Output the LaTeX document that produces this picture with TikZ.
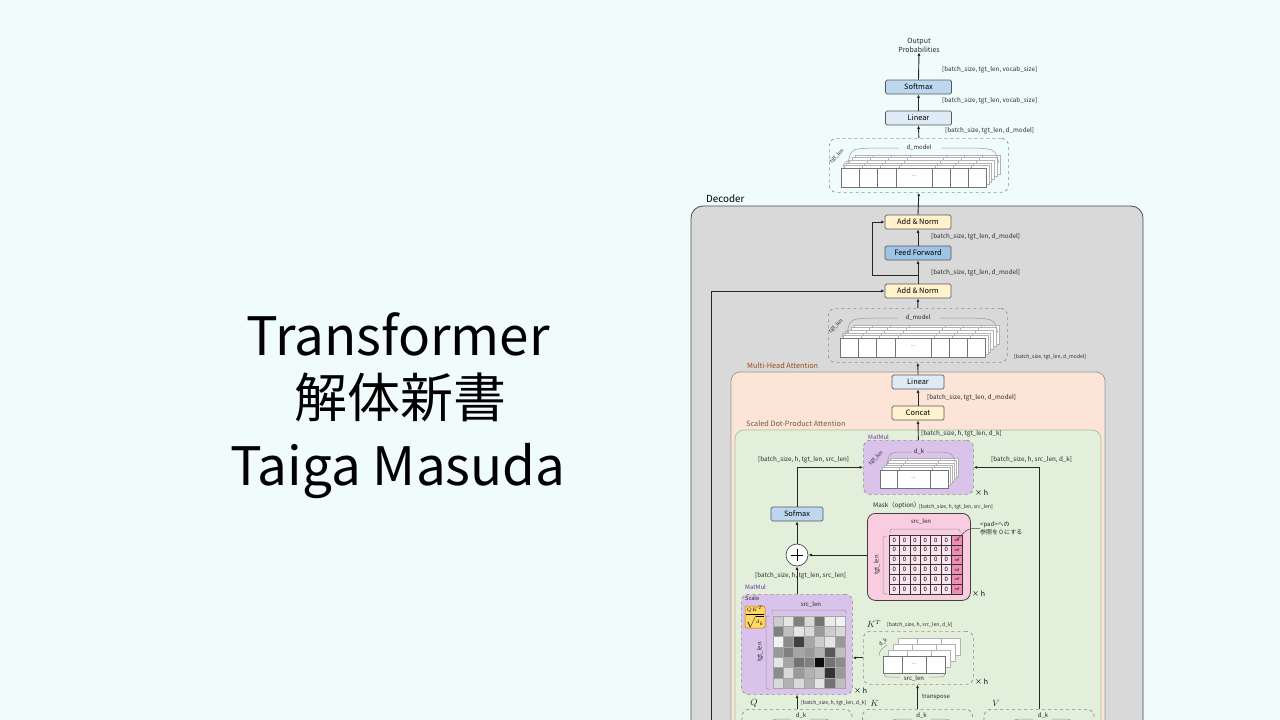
\documentclass[tikz,border=0pt]{standalone}
\usepackage{fontspec}
\setmainfont{Noto Sans CJK JP}
\usetikzlibrary{arrows.meta,calc}

\definecolor{bgcol}{HTML}{F0FCFC}
\definecolor{deccol}{HTML}{D9D9D9}
\definecolor{mhacol}{HTML}{FCE4D6}
\definecolor{sdpcol}{HTML}{E2EFDA}
\definecolor{sdpline}{HTML}{A9BF98}
\definecolor{normcol}{HTML}{FFF2CC}
\definecolor{lincol}{HTML}{DEEBF7}
\definecolor{smaxcol}{HTML}{BDD7EE}
\definecolor{ffcol}{HTML}{9DC3E6}
\definecolor{mmcol}{HTML}{D9C3EA}
\definecolor{maskcol}{HTML}{F9CCDF}
\definecolor{cellcol}{HTML}{FBE3EE}
\definecolor{infcol}{HTML}{EE8CB4}
\definecolor{scalecol}{HTML}{FFD966}
\definecolor{dimcol}{HTML}{2E2A2A}
\definecolor{mhatext}{HTML}{A04A14}
\definecolor{sdptext}{HTML}{6E5E3E}
\definecolor{mmtext}{HTML}{7030A0}

\tikzset{
  titletext/.style={inner sep=0pt, anchor=base, font=\fontsize{53}{58}\selectfont},
  grouplbl/.style={anchor=west, inner sep=0pt, font=\fontsize{7.3}{8}\selectfont},
  blk/.style={draw=black!65, line width=0.7pt, rounded corners=1.5pt, minimum width=66pt, minimum height=14pt, inner sep=0pt, font=\fontsize{7.4}{8}\selectfont},
  dim/.style={anchor=west, inner sep=0pt, text=dimcol, font=\fontsize{6.3}{7}\selectfont},
  tinydim/.style={anchor=west, inner sep=0pt, text=dimcol, font=\fontsize{5.1}{6}\selectfont},
  arr/.style={-{Latex[length=3.5pt,width=3pt]}, line width=0.9pt, black!85},
  dbox/.style={draw=black!45, dashed, line width=0.7pt, rounded corners=7pt, inner sep=0pt},
  cell/.style={draw=black!30, fill=white, line width=0.4pt},
  fcell/.style={draw=black!55, fill=white, line width=0.5pt},
  lbl/.style={inner sep=0pt, font=\fontsize{6}{7}\selectfont, text=black!85},
  brace/.style={draw=black!40, line width=0.5pt},
  mcell/.style={draw=black!80, fill=cellcol, minimum width=10.4pt, minimum height=9.9pt, inner sep=0pt, line width=0.5pt, font=\fontsize{6}{7}\selectfont},
  timesh/.style={anchor=west, inner sep=0pt, font=\fontsize{7}{8}\selectfont},
}

\begin{document}
\begin{tikzpicture}[x=1pt, y=-1pt]
  % Background
  \fill[bgcol] (0,0) rectangle (1280,720);
  \useasboundingbox (0,0) rectangle (1280,720);
  \clip (0,0) rectangle (1280,720);

  % Title
  \node[titletext] (title1) at (398,355) {Transformer};
  \node[titletext] (title2) at (400,417) {解体新書};
  \node[titletext] (title3) at (398,485) {Taiga Masuda};

  % Containers
  \draw[fill=deccol, draw=black!70, line width=0.8pt, rounded corners=12pt] (691,206) rectangle (1143,770);
  \draw[fill=mhacol, draw=black!40, line width=0.7pt, rounded corners=9pt] (731,372) rectangle (1105,770);
  \draw[fill=sdpcol, draw=sdpline, line width=0.7pt, rounded corners=9pt] (735,430) rectangle (1101,770);
  \node[grouplbl, font=\fontsize{9.8}{11}\selectfont] (declbl) at (706,199) {Decoder};
  \node[grouplbl, text=mhatext] (mhalbl) at (747,366) {Multi-Head Attention};
  \node[grouplbl, text=sdptext] (sdplbl) at (746,424) {Scaled Dot-Product Attention};

  % Output side
  \node[lbl, align=center, font=\fontsize{7}{9}\selectfont] (outprob) at (919,45) {Output\\Probabilities};
  \node[blk, fill=smaxcol] (softmax) at (918.5,87) {Softmax};
  \node[blk, fill=lincol] (linear) at (918.5,118) {Linear};
  \node[dim] (dimA) at (942,70) {[batch\_size, tgt\_len, vocab\_size]};
  \node[dim] (dimB) at (942,101) {[batch\_size, tgt\_len, vocab\_size]};
  \node[dim] (dimC) at (945,131) {[batch\_size, tgt\_len, d\_model]};

  % Decoder blocks
  \node[blk, fill=normcol] (addnorm2) at (918,222) {Add \& Norm};
  \node[blk, fill=ffcol] (ff) at (918,253) {Feed Forward};
  \node[blk, fill=normcol] (addnorm1) at (918,291) {Add \& Norm};
  \node[dim] (dimD) at (931,237) {[batch\_size, tgt\_len, d\_model]};
  \node[dim] (dimE) at (931,273) {[batch\_size, tgt\_len, d\_model]};
  \node[tinydim] (dimF) at (1014,357) {[batch\_size, tgt\_len, d\_model]};

  % d_model tensors
  \foreach \ox/\oy/\nm in {829/138/top, 828/308/mid} {
    \node[dbox, minimum width=179pt, minimum height=54pt, anchor=north west] (stack\nm) at (\ox,\oy) {};
    \foreach \k in {5,4,3,2,1}
      \foreach \a/\b in {12/30, 30/48, 48/67, 67/103, 103/121, 121/139, 139/157}
        \draw[cell] (\ox+\a+2.8*\k,\oy+30-2.6*\k) rectangle (\ox+\b+2.8*\k,\oy+49-2.6*\k);
    \foreach \a/\b in {12/30, 30/48, 48/67, 67/103, 103/121, 121/139, 139/157}
      \draw[fcell] (\ox+\a,\oy+30) rectangle (\ox+\b,\oy+49);
    \node[lbl, font=\fontsize{5}{6}\selectfont] (dots\nm) at (\ox+85,\oy+38) {...};
    \node[lbl] (dm\nm) at (\ox+90,\oy+10) {d\_model};
    \draw[brace] (\ox+19,\oy+25) .. controls (\ox+22,\oy+11) .. (\ox+42,\oy+10) -- (\ox+70,\oy+10);
    \draw[brace] (\ox+112,\oy+10) -- (\ox+145,\oy+10) .. controls (\ox+166,\oy+11) .. (\ox+170,\oy+25);
    \draw[brace] (\ox+14,\oy+29) .. controls (\ox+15,\oy+25) .. (\ox+19,\oy+23);
    \node[lbl, rotate=45, font=\fontsize{5.3}{6}\selectfont] (tl\nm) at (\ox+8,\oy+18) {tgt\_len};
  }

  % Multi-Head Attention blocks
  \node[blk, fill=lincol, minimum width=52pt] (mhlinear) at (918,382) {Linear};
  \node[blk, fill=normcol, minimum width=52pt] (concat) at (918,413) {Concat};
  \node[dim] (dimG) at (927,398) {[batch\_size, tgt\_len, d\_model]};
  \node[dim] (dimH) at (921,434) {[batch\_size, h, tgt\_len, d\_k]};

  % MatMul with V
  \node[dbox, fill=mmcol, minimum width=110pt, minimum height=54pt, anchor=north west] (mmout) at (863,440) {};
  \node[lbl, anchor=south west, text=mmtext] (mmoutlbl) at (868,439.5) {MatMul};
  \foreach \k in {5,4,3,2,1}
    \foreach \a/\b in {880/897, 897/930, 930/948}
      \draw[cell] (\a+2*\k,470-2.4*\k) rectangle (\b+2*\k,488-2.4*\k);
  \foreach \a/\b in {880/897, 897/930, 930/948}
    \draw[fcell] (\a,470) rectangle (\b,488);
  \node[lbl, font=\fontsize{5}{6}\selectfont] (dotsmm) at (913.5,478) {...};
  \node[lbl] (dkmm) at (919,452) {d\_k};
  \draw[brace] (887,465) .. controls (889,453) .. (900,452) -- (911,452);
  \draw[brace] (927,452) -- (942,452) .. controls (952,453) .. (955,462);
  \node[lbl, rotate=45, font=\fontsize{5.3}{6}\selectfont] (tlmm) at (876,458) {tgt\_len};
  \node[timesh] (hmm) at (975,493) {× h};
  \node[dim] (dimI) at (758,460) {[batch\_size, h, tgt\_len, src\_len]};
  \node[dim] (dimJ) at (991,460) {[batch\_size, h, src\_len, d\_k]};

  % Softmax and add
  \node[blk, fill=smaxcol, minimum width=52pt] (sofmax) at (797,514) {Sofmax};
  \node[circle, draw=black!70, fill=white, minimum size=22pt, inner sep=0pt, line width=0.7pt] (plus) at (797,555) {};
  \draw[line width=0.7pt] ([xshift=-6pt]plus.center) -- ([xshift=6pt]plus.center);
  \draw[line width=0.7pt] ([yshift=-6pt]plus.center) -- ([yshift=6pt]plus.center);
  \node[dim] (dimK) at (755,576) {[batch\_size, h, tgt\_len, src\_len]};

  % Mask
  \node[draw=black!75, fill=maskcol, rounded corners=8pt, minimum width=103pt, minimum height=87pt, anchor=north west, line width=0.8pt] (mask) at (867,513) {};
  \node[lbl, anchor=west, font=\fontsize{6.3}{7}\selectfont] (masklbl) at (873,506) {Mask（option）};
  \node[tinydim] (dimL) at (919,507) {[batch\_size, h, tgt\_len, src\_len]};
  \foreach \r in {0,...,5} {
    \foreach \c in {0,...,5}
      \node[mcell] (m\r\c) at (894.2+10.4*\c,539.95+9.9*\r) {0};
    \node[mcell, fill=infcol, font=\fontsize{3.5}{4}\selectfont] (m\r6) at (956.6,539.95+9.9*\r) {-inf};
  }
  \node[lbl] (srcmask) at (921,522) {src\_len};
  \draw[brace, rounded corners=2pt] (890,533) -- (890,529) -- (960,529) -- (960,533);
  \node[lbl, rotate=90] (tgtmask) at (877,565) {tgt\_len};
  \draw[brace, rounded corners=2pt] (887,536) -- (883,536) -- (883,594) -- (887,594);
  \node[timesh] (hmask) at (972,594) {× h};
  \node[lbl, anchor=north west, align=left, font=\fontsize{6}{7.5}\selectfont] (padnote) at (980,522) {<pad>への\\参照を０にする};
  \draw[black!70, line width=0.5pt] (m06.center) .. controls (968,528) .. (padnote.west);

  % Scaled scores
  \node[dbox, fill=mmcol, minimum width=111pt, minimum height=100pt, anchor=north west] (score) at (741,594) {};
  \node[lbl, anchor=west, text=mmtext] (scorelbl) at (745,587) {MatMul};
  \node[lbl, anchor=west, font=\fontsize{5.6}{6}\selectfont] (scalelbl) at (745,598.5) {Scale};
  \node[draw=orange!80!black, fill=scalecol, rounded corners=2pt, minimum width=20pt, minimum height=22pt, inner sep=0pt, line width=0.5pt] (scale) at (755,617) {};
  \node[inner sep=0pt, font=\fontsize{5}{6}\selectfont] (scaleeq) at (scale.center) {$\displaystyle\frac{QK^T}{\sqrt{d_k}}$};
  \foreach \row [count=\r from 0] in {{20,10,50,15,55,8,5}, {50,25,10,15,40,20,15}, {5,45,75,35,20,10,40}, {40,50,35,40,30,65,25}, {10,35,55,50,95,55,45}, {45,15,40,30,25,80,40}, {15,30,15,30,10,55,25}} {
    \foreach \v [count=\c from 0] in \row
      \draw[draw=black!35, fill=black!\v, line width=0.4pt] (773+10.3*\c,616+10.3*\r) rectangle (783.3+10.3*\c,626.3+10.3*\r);
  }
  \node[lbl] (srcscore) at (811,605) {src\_len};
  \draw[brace, rounded corners=2pt] (772,614) -- (772,610) -- (846,610) -- (846,614);
  \node[lbl, rotate=90] (tgtscore) at (760,652) {tgt\_len};
  \draw[brace, rounded corners=2pt] (770,616) -- (766,616) -- (766,689) -- (770,689);
  \node[timesh] (hscore) at (854,691) {× h};
  \node[tinydim] (dimM) at (801,703) {[batch\_size, h, tgt\_len, d\_k]};

  % K transposed
  \node[dbox, minimum width=110pt, minimum height=53pt, anchor=north west] (kt) at (863,631) {};
  \node[lbl, font=\fontsize{9}{10}\selectfont] (ktsym) at (874,624) {$K^T$};
  \node[tinydim] (dimN) at (887,625) {[batch\_size, h, src\_len, d\_k]};
  \foreach \k in {3,2,1}
    \foreach \a/\b in {883/902, 902/926, 926/945}
      \draw[cell] (\a+5*\k,656-6*\k) rectangle (\b+5*\k,673-6*\k);
  \foreach \a/\b in {883/902, 902/926, 926/945}
    \draw[fcell] (\a,656) rectangle (\b,673);
  \node[lbl, font=\fontsize{5}{6}\selectfont] (dotskt) at (914,664) {...};
  \node[lbl, rotate=45, font=\fontsize{5.3}{6}\selectfont] (dkkt) at (883,642) {d\_k};
  \draw[brace] (879,656) .. controls (880,650) .. (887,645);
  \node[lbl] (srckt) at (914,679) {src\_len};
  \draw[brace] (884,673) .. controls (885,677) .. (892,677) -- (900,677);
  \draw[brace] (929,677) -- (938,677) .. controls (944,677) .. (945,673);
  \node[timesh] (hkt) at (975,682) {× h};
  \node[lbl, anchor=west] (transp) at (922,697) {transpose};

  % Q, K, V inputs
  \foreach \cx/\nm/\sym/\side in {797/q/Q/tgt, 917.5/k/K/src, 1039/v/V/src} {
    \node[dbox, minimum width=110pt, minimum height=40pt, anchor=north] (\nm-box) at (\cx,709) {};
    \node[lbl, font=\fontsize{9}{10}\selectfont] (\nm-sym) at (\cx-43,703) {$\sym$};
    \node[lbl] (\nm-dk) at (\cx+4,716) {d\_k};
    \draw[brace] (\cx-27,725) .. controls (\cx-25,719) .. (\cx-15,719) -- (\cx-6,719);
    \draw[brace] (\cx+13,719) -- (\cx+22,719) .. controls (\cx+32,719) .. (\cx+35,725);
    \node[lbl, rotate=45, font=\fontsize{5.3}{6}\selectfont] (\nm-len) at (\cx-38,729) {\side\_len};
  }

  % Connections
  \draw[arr] (softmax.north) -- (outprob.south);
  \draw[arr] (linear.north) -- (softmax.south);
  \draw[arr] (stacktop.north) -- (linear.south);
  \draw[arr] (addnorm2.north) -- (stacktop.south);
  \draw[arr] (ff.north) -- (addnorm2.south);
  \draw[arr] (addnorm1.north) -- (ff.south);
  \coordinate (rsplit) at (918,275);
  \draw[arr] (rsplit) -- ++(-46,0) |- (addnorm2.west);
  \draw[arr] (stackmid.north) -- (addnorm1.south);
  \coordinate (resin) at (711,730);
  \draw[arr] (resin) |- (addnorm1.west);
  \draw[arr] (mhlinear.north) -- (stackmid.south);
  \draw[arr] (concat.north) -- (mhlinear.south);
  \draw[arr] (mmout.north) -- (concat.south);
  \draw[arr] (sofmax.north) |- (mmout.west);
  \draw[arr] (v-box.north) |- (mmout.east);
  \draw[arr] (plus.north) -- (sofmax.south);
  \draw[arr] (mask.west |- plus.east) -- (plus.east);
  \draw[arr] (plus.south |- score.north) -- (plus.south);
  \draw[arr] (kt.west) -- (kt.west -| score.east);
  \draw[arr] (q-box.north) -- (q-box.north |- score.south);
  \draw[arr] (k-box.north) -- (k-box.north |- kt.south);
\end{tikzpicture}
\end{document}
